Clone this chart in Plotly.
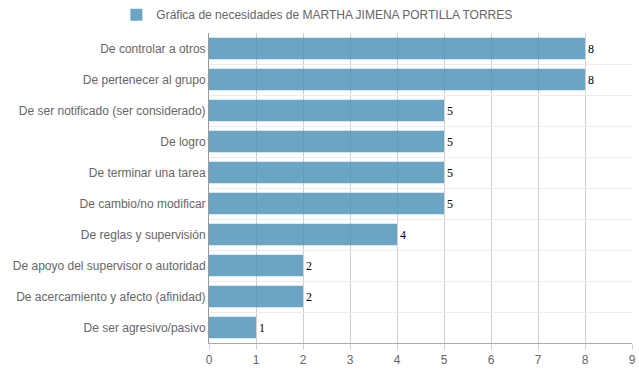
import plotly.graph_objects as go

categories = [
    "De controlar a otros",
    "De pertenecer al grupo",
    "De ser notificado (ser considerado)",
    "De logro",
    "De terminar una tarea",
    "De cambio/no modificar",
    "De reglas y supervisión",
    "De apoyo del supervisor o autoridad",
    "De acercamiento y afecto (afinidad)",
    "De ser agresivo/pasivo",
]
values = [8, 8, 5, 5, 5, 5, 4, 2, 2, 1]
x_ticks = list(range(0, 10))
series_name = "Gráfica de necesidades de MARTHA JIMENA PORTILLA TORRES"

fig = go.Figure()
fig.add_trace(go.Bar(
    x=values,
    y=categories,
    orientation="h",
    name=series_name,
    marker=dict(color="rgba(69,144,181,0.8)",
                line=dict(color="rgba(54,125,170,0.9)", width=0)),
    text=[str(v) for v in values],
    textposition="outside",
    textfont=dict(family="Liberation Serif", size=12, color="#000"),
    cliponaxis=False,
    width=0.7,
))

fig.update_layout(
    width=639, height=372,
    margin=dict(l=209, r=7, t=33, b=29, autoexpand=False),
    paper_bgcolor="white", plot_bgcolor="white",
    font=dict(family="Liberation Sans, Arial", size=12, color="#666"),
    showlegend=True,
    legend=dict(orientation="h", x=0.255, xanchor="center", y=1.106, yanchor="top",
                font=dict(size=12, color="#666")),
    bargap=0.3,
)
fig.update_xaxes(
    range=[0, 9], tickvals=x_ticks, showgrid=True, gridcolor="#d0d0d0",
    zeroline=False, showline=True, linecolor="#aaa", mirror=False,
    ticks="outside", ticklen=6, tickcolor="#d0d0d0",
    ticklabeloverflow="allow", automargin=False,
    tickfont=dict(size=12, color="#666"),
)
fig.update_yaxes(
    autorange="reversed", type="category", tickson="boundaries",
    showgrid=True, gridcolor="#ececec", gridwidth=1, automargin=False,
    showline=True, linecolor="#999", ticks="", ticklen=8,
    tickfont=dict(size=12, color="#666"),
)

fig.write_html("out.html", config={"displayModeBar": False},
               post_script="document.body.style.margin='0';")
